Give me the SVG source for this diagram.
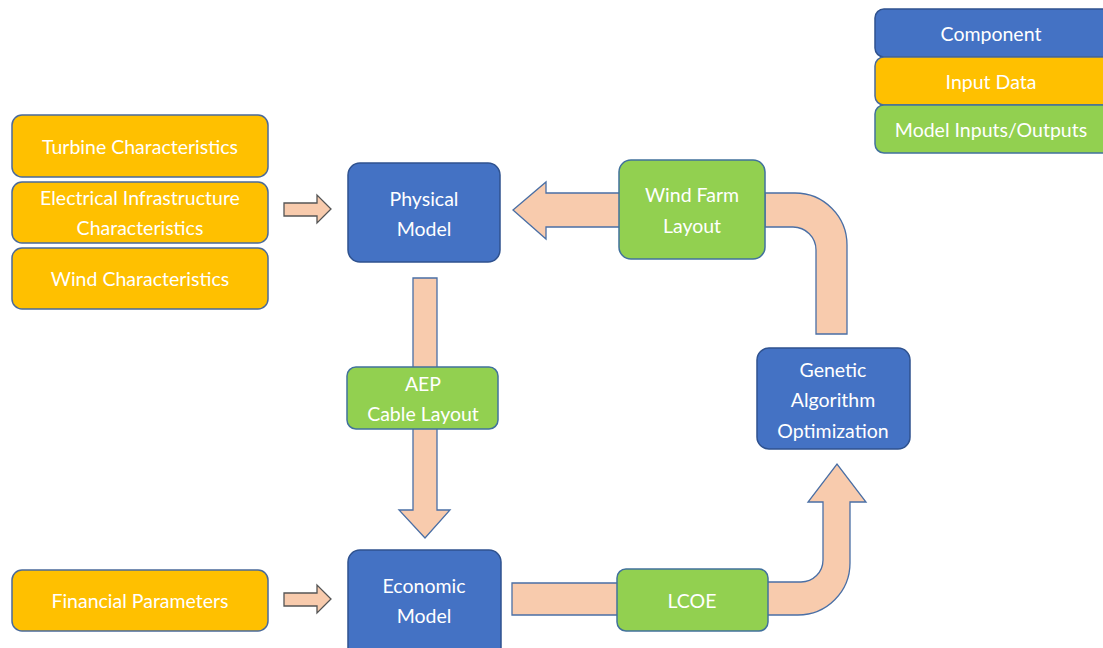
<svg xmlns="http://www.w3.org/2000/svg" width="1103" height="648" viewBox="0 0 1103 648">
<style>
.comp{fill:#4472C4;stroke:#2F528F;stroke-width:1.5}
.inp{fill:#FFC000;stroke:#4A6A9A;stroke-width:1.5}
.mio{fill:#92D050;stroke:#41719C;stroke-width:1.5}
.arr{fill:#F8CBAD;stroke:#4A6FA5;stroke-width:1.3;stroke-linejoin:miter}
.sarr{fill:#F8CBAD;stroke:#555;stroke-width:1.3}
text{font-family:Lato,"Open Sans","Liberation Sans",sans-serif;font-size:19.5px;fill:#fff;text-anchor:middle}
</style>
<rect width="1103" height="648" fill="#fff"/>
<g id="connectors">
<path class="sarr" d="M284 203 H317 V195 L331 209 L317 223 V216 H284 Z"/>
<path class="sarr" d="M284 593 H317 V585 L331 599 L317 613 V606 H284 Z"/>
<path class="arr" d="M413 278 H437 V510 H450 L425 538 L399 510 H413 Z"/>
<path class="arr" d="M512 583 H620 V615 H512 Z"/>
<path class="arr" d="M765 615 H798 A52 52 0 0 0 850 563 V502 H866 L837 464 L808 502 H823 V560 A22 22 0 0 1 801 582 H765 Z"/>
<path class="arr" d="M620 193 H546 V182 L513 210 L546 239 V227 H620 Z"/>
<path class="arr" d="M765 193 H795 A52 52 0 0 1 847 245 V334 H816 V250 A23 23 0 0 0 793 227 H765 Z"/>
</g>
<g id="turbine"><rect class="inp" x="12" y="115" width="256" height="62" rx="10"/><text x="140" y="154">Turbine Characteristics</text></g>
<g id="electrical"><rect class="inp" x="12" y="182" width="256" height="61" rx="10"/><text x="140" y="205">Electrical Infrastructure</text><text x="140" y="235">Characteristics</text></g>
<g id="wind"><rect class="inp" x="12" y="248" width="256" height="61" rx="10"/><text x="140" y="286">Wind Characteristics</text></g>
<g id="financial"><rect class="inp" x="12" y="570" width="256" height="61" rx="10"/><text x="140" y="608">Financial Parameters</text></g>
<g id="physical"><rect class="comp" x="348" y="163" width="152" height="99" rx="12"/><text x="424" y="206">Physical</text><text x="424" y="236">Model</text></g>
<g id="aep"><rect class="mio" x="347" y="367" width="151" height="62" rx="9"/><text x="423" y="391">AEP</text><text x="423" y="421">Cable Layout</text></g>
<g id="economic"><rect class="comp" x="348" y="550" width="153" height="110" rx="12"/><text x="424" y="593">Economic</text><text x="424" y="623">Model</text></g>
<g id="lcoe"><rect class="mio" x="617" y="569" width="151" height="62" rx="9"/><text x="692" y="608">LCOE</text></g>
<g id="ga"><rect class="comp" x="757" y="348" width="153" height="101" rx="12"/><text x="833" y="377">Genetic</text><text x="833" y="407">Algorithm</text><text x="833" y="438">Optimization</text></g>
<g id="windfarm"><rect class="mio" x="619" y="160" width="146" height="99" rx="12"/><text x="692" y="202">Wind Farm</text><text x="692" y="233">Layout</text></g>
<g id="legend">
<g id="legend-component"><rect class="comp" x="875" y="9" width="240" height="48" rx="9"/><text x="991" y="41">Component</text></g>
<g id="legend-input"><rect class="inp" x="875" y="57" width="240" height="48" rx="9"/><text x="991" y="89">Input Data</text></g>
<g id="legend-mio"><rect class="mio" x="875" y="105" width="240" height="48" rx="9"/><text x="991" y="137">Model Inputs/Outputs</text></g>
</g>
</svg>
